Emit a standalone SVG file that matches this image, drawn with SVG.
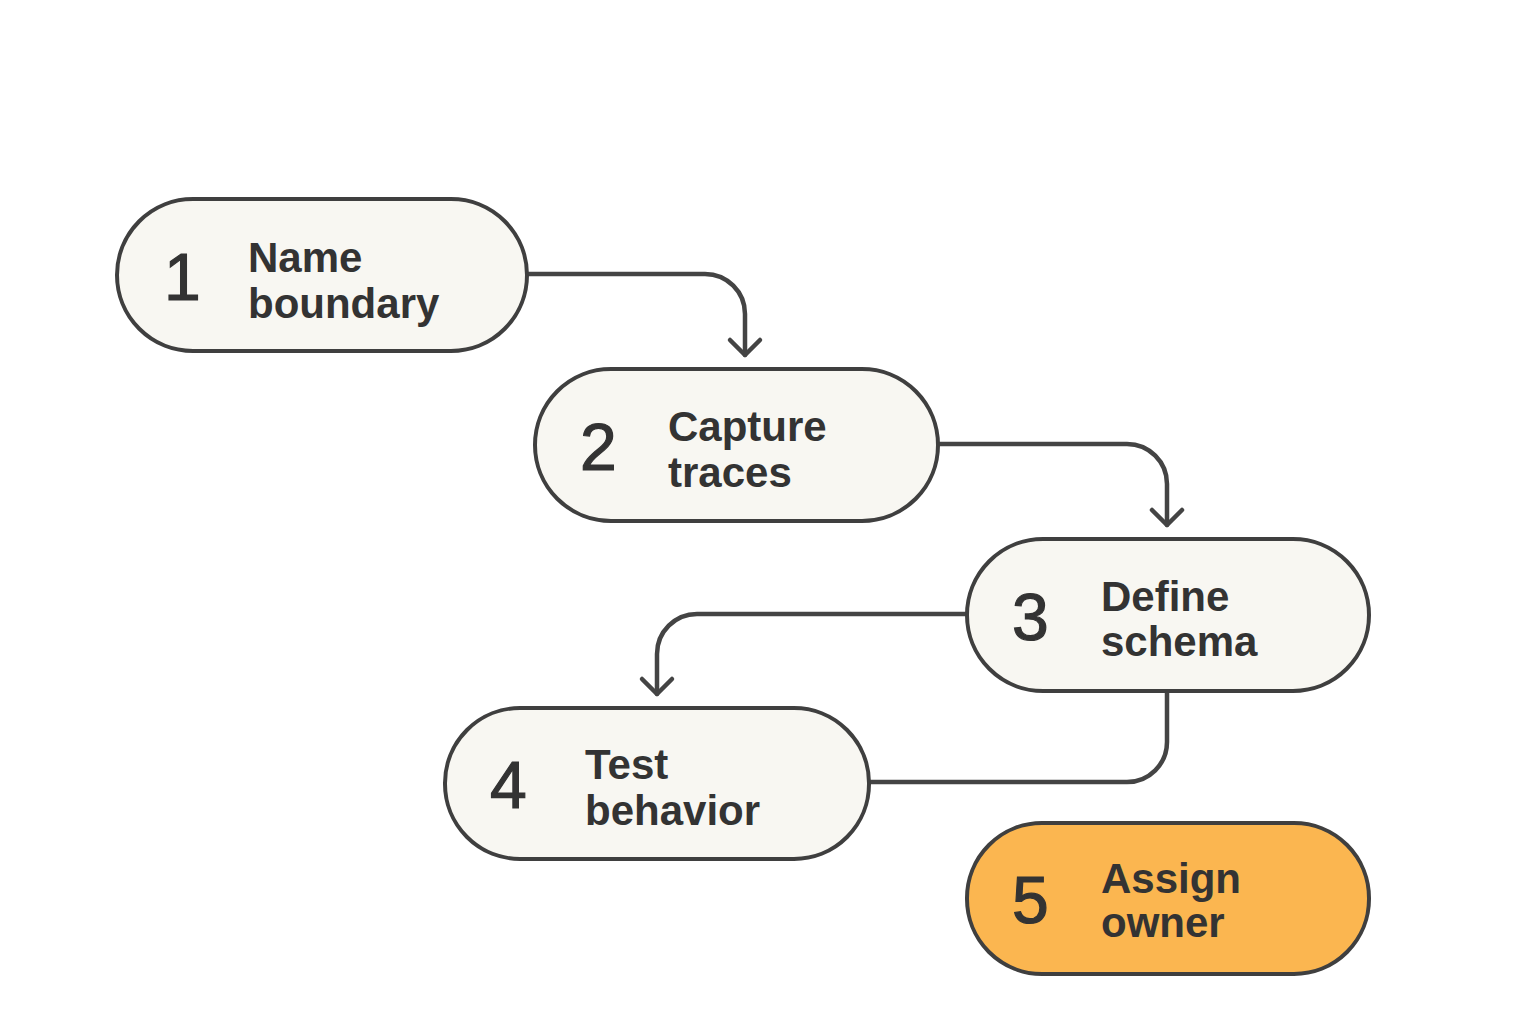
<svg xmlns="http://www.w3.org/2000/svg" width="1536" height="1024" viewBox="0 0 1536 1024">
<style>
.node rect{fill:#f8f7f2;stroke:#3f3f3f;stroke-width:4}
.node.hl rect{fill:#fbb650}
.num{font-family:"Liberation Sans",Arial,sans-serif;font-size:66px;fill:#333;stroke:#333;stroke-width:1.2}
.lbl{font-family:"Liberation Sans",Arial,sans-serif;font-size:42px;font-weight:bold;fill:#333}
.conn path{fill:none;stroke:#444;stroke-width:4.5;stroke-linecap:round;stroke-linejoin:round}
</style>
<rect width="1536" height="1024" fill="#ffffff"/>
<g id="connectors" class="conn">
<path d="M527 274 H705 A40 40 0 0 1 745 314 V355"/>
<path d="M730 340 L745 355 L760 340"/>
<path d="M938 444 H1127 A40 40 0 0 1 1167 484 V525"/>
<path d="M1152 510 L1167 525 L1182 510"/>
<path d="M967 614 H697 A40 40 0 0 0 657 654 V694"/>
<path d="M642 679 L657 694 L672 679"/>
<path d="M1167 691 V742 A40 40 0 0 1 1127 782 H869"/>
</g>
<g id="node1" class="node">
<rect x="117" y="199" width="410" height="152" rx="76"/>
<text class="num" x="164" y="300">1</text>
<text class="lbl" x="248" y="272">Name</text>
<text class="lbl" x="248" y="318">boundary</text>
</g>
<g id="node2" class="node">
<rect x="535" y="369" width="403" height="152" rx="76"/>
<text class="num" x="580" y="470">2</text>
<text class="lbl" x="668" y="441">Capture</text>
<text class="lbl" x="668" y="487">traces</text>
</g>
<g id="node3" class="node">
<rect x="967" y="539" width="402" height="152" rx="76"/>
<text class="num" x="1012" y="640">3</text>
<text class="lbl" x="1101" y="611">Define</text>
<text class="lbl" x="1101" y="656">schema</text>
</g>
<g id="node4" class="node">
<rect x="445" y="708" width="424" height="151" rx="75"/>
<text class="num" x="490" y="808">4</text>
<text class="lbl" x="585" y="779">Test</text>
<text class="lbl" x="585" y="825">behavior</text>
</g>
<g id="node5" class="node hl">
<rect x="967" y="823" width="402" height="151" rx="75"/>
<text class="num" x="1012" y="923">5</text>
<text class="lbl" x="1101" y="893">Assign</text>
<text class="lbl" x="1101" y="937">owner</text>
</g>
</svg>
